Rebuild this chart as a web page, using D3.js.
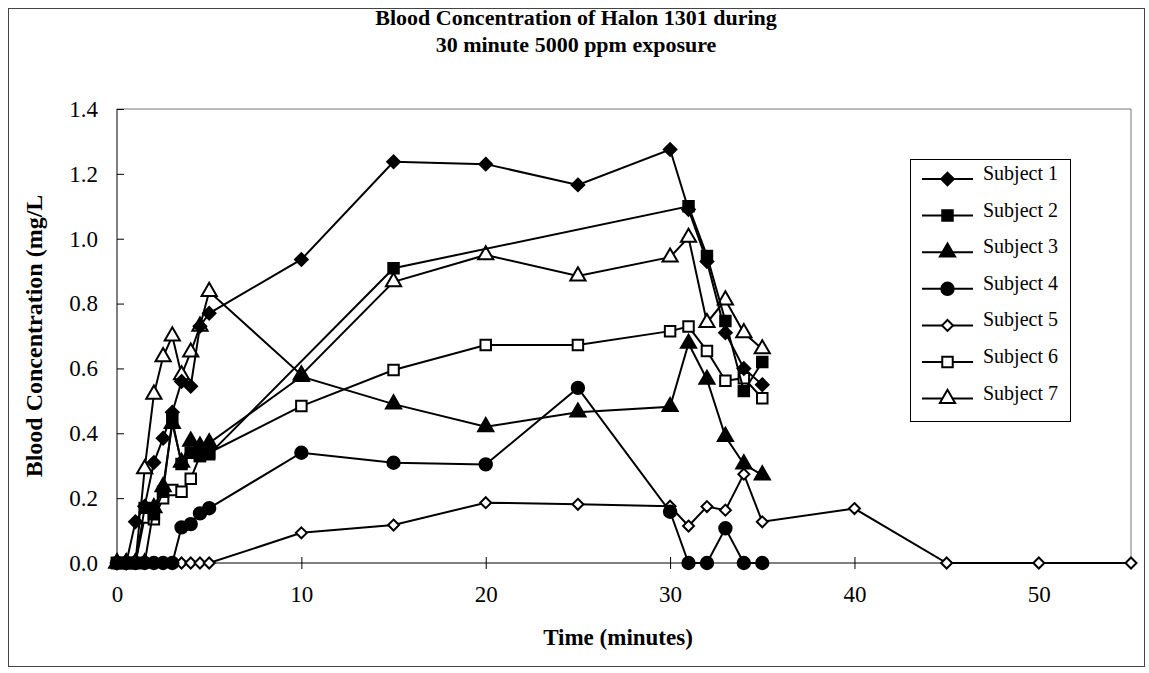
<!DOCTYPE html>
<meta charset="utf-8">
<head>
<style>
body { margin: 0; background: #fff; }
svg { font-family: "Liberation Serif", "Times New Roman", serif; }
</style>
</head>
<script src="https://d3js.org/d3.v7.min.js"></script>
<div id="chart"></div>
<script>

// sampling times (minutes)
var times = [0, 0.5, 1, 1.5, 2, 2.5, 3, 3.5, 4, 4.5, 5, 10, 15, 20, 25, 30, 31, 32, 33, 34, 35, 40, 45, 50, 55];

// blood concentration (mg/L), null = not sampled / not visible
var subject1 = [0, 0, 0.127, 0.175, 0.31, 0.385, 0.465, 0.56, 0.545, 0.73, 0.77, 0.936, 1.237, 1.23, 1.166, 1.275, 1.09, 0.93, 0.71, 0.60, 0.55, null, null, null, null];
var subject2 = [0, 0, 0, 0.17, 0.15, 0.22, 0.44, 0.305, 0.34, 0.33, 0.335, null, 0.909, null, null, null, 1.10, 0.947, 0.746, 0.53, 0.62, null, null, null, null];
var subject3 = [0, 0, 0, 0, 0.17, 0.235, 0.43, 0.31, 0.375, 0.36, 0.37, 0.575, 0.49, 0.42, 0.465, 0.482, 0.677, 0.566, 0.39, 0.305, 0.271, null, null, null, null];
var subject4 = [0, 0, 0, 0, 0, 0, 0, 0.11, 0.12, 0.153, 0.169, 0.34, 0.309, 0.304, 0.54, 0.158, 0, 0, 0.107, 0, 0, null, null, null, null];
var subject5 = [null, null, null, null, null, null, null, 0, 0, 0, 0, 0.093, 0.117, 0.186, 0.181, 0.175, 0.114, 0.174, 0.163, 0.274, 0.127, 0.168, 0, 0, 0];
var subject6 = [0, 0, 0, 0.14, 0.135, 0.2, 0.225, 0.22, 0.26, 0.33, 0.34, 0.484, 0.595, 0.672, 0.672, 0.715, 0.729, 0.654, 0.562, 0.57, 0.508, null, null, null, null];
var subject7 = [0, 0, 0, 0.29, 0.52, 0.636, 0.70, 0.58, 0.65, 0.73, 0.837, 0.58, 0.867, 0.95, 0.885, 0.943, 1.004, 0.741, 0.811, 0.71, 0.66, null, null, null, null];

var seriesNames = ["Subject 1", "Subject 2", "Subject 3", "Subject 4", "Subject 5", "Subject 6", "Subject 7"];
var xTicks = [0, 10, 20, 30, 40, 50];
var yTicks = [0, 0.2, 0.4, 0.6, 0.8, 1.0, 1.2, 1.4];

var W = 1149, H = 673;
var plot = {left: 117, right: 1131, top: 109, bottom: 563};

var svg = d3.select("#chart").append("svg")
  .attr("width", W).attr("height", H);

// outer frame
svg.append("rect")
  .attr("x", 8.5).attr("y", 8.5)
  .attr("width", 1136).attr("height", 658)
  .attr("fill", "none").attr("stroke", "#444").attr("stroke-width", 1);

var x = d3.scaleLinear().domain([0, 55]).range([plot.left, plot.right]);
var y = d3.scaleLinear().domain([0, 1.4]).range([plot.bottom, plot.top]);

// plot area border (top and right)
svg.append("path")
  .attr("d", "M" + plot.left + "," + plot.top + "H" + plot.right + "V" + plot.bottom)
  .attr("fill", "none").attr("stroke", "#777").attr("stroke-width", 1);

// title
svg.append("text").attr("x", 576).attr("y", 25)
  .attr("text-anchor", "middle").style("font-size", "22px").style("font-weight", "bold")
  .text("Blood Concentration of Halon 1301 during");
svg.append("text").attr("x", 576).attr("y", 52)
  .attr("text-anchor", "middle").style("font-size", "22px").style("font-weight", "bold")
  .text("30 minute 5000 ppm exposure");

// Y axis
var yAxis = svg.append("g")
  .attr("transform", "translate(" + plot.left + ",0)")
  .call(d3.axisLeft(y).tickValues(yTicks).tickFormat(d3.format(".1f")).tickSize(7).tickPadding(12));
yAxis.selectAll(".tick line").attr("x2", 7);
yAxis.select(".domain").attr("d", "M0," + plot.bottom + "V" + plot.top);
yAxis.selectAll("text").style("font-size", "23px").style("font-family", "Liberation Serif");
yAxis.selectAll("line,path").attr("stroke", "#000");

// X axis
var xAxis = svg.append("g")
  .attr("transform", "translate(0," + plot.bottom + ")")
  .call(d3.axisBottom(x).tickValues(xTicks).tickSize(6).tickPadding(17));
xAxis.selectAll(".tick line").attr("y1", -6);
xAxis.select(".domain").attr("d", "M" + plot.left + ",0H" + plot.right);
xAxis.selectAll("text").style("font-size", "23px").style("font-family", "Liberation Serif");

// axis titles
svg.append("text")
  .attr("transform", "translate(42," + ((plot.top + plot.bottom) / 2) + ") rotate(-90)")
  .attr("text-anchor", "middle").style("font-size", "24px").style("font-weight", "bold")
  .text("Blood Concentration (mg/L");
svg.append("text").attr("x", 618).attr("y", 645)
  .attr("text-anchor", "middle").style("font-size", "23px").style("font-weight", "bold")
  .text("Time (minutes)");

// square diamond (rotated square), like the spreadsheet marker
var symbolRhomb = {
  draw: function(context, size) {
    var r = Math.sqrt(size / 2);
    context.moveTo(0, -r);
    context.lineTo(r, 0);
    context.lineTo(0, r);
    context.lineTo(-r, 0);
    context.closePath();
  }
};

// marker styles
var markers = [
  {type: symbolRhomb, size: 80, fill: "#000"},
  {type: d3.symbolSquare, size: 110, fill: "#000"},
  {type: d3.symbolTriangle, size: 100, fill: "#000"},
  {type: d3.symbolCircle, size: 120, fill: "#000"},
  {type: symbolRhomb, size: 60, fill: "#fff"},
  {type: d3.symbolSquare, size: 110, fill: "#fff"},
  {type: d3.symbolTriangle, size: 100, fill: "#fff"}
];

var allSeries = [subject1, subject2, subject3, subject4, subject5, subject6, subject7];

var line = d3.line().x(function(d) { return x(d.t); }).y(function(d) { return y(d.v); });

// draw last subject first so the filled markers end up on top of the zero cluster
d3.range(allSeries.length - 1, -1, -1).forEach(function(i) {
  var vals = allSeries[i];
  var pts = [];
  vals.forEach(function(v, j) { if (v !== null) pts.push({t: times[j], v: v}); });

  svg.append("path")
    .datum(pts)
    .attr("d", line)
    .attr("fill", "none").attr("stroke", "#000").attr("stroke-width", 2);

  svg.append("g").selectAll("path")
    .data(pts)
    .enter().append("path")
      .attr("transform", function(d) { return "translate(" + x(d.t) + "," + y(d.v) + ")"; })
      .attr("d", d3.symbol().type(markers[i].type).size(markers[i].size))
      .attr("fill", markers[i].fill)
      .attr("stroke", "#000").attr("stroke-width", 2);
});

// legend
var legend = svg.append("g");
legend.append("rect")
  .attr("x", 910.5).attr("y", 159.5).attr("width", 160).attr("height", 262)
  .attr("fill", "#fff").attr("stroke", "#000").attr("stroke-width", 1);

seriesNames.forEach(function(name, i) {
  var ly = 179 + i * 36.6;
  legend.append("line")
    .attr("x1", 922).attr("x2", 973).attr("y1", ly).attr("y2", ly)
    .attr("stroke", "#000").attr("stroke-width", 2);
  legend.append("path")
    .attr("transform", "translate(947.5," + ly + ")")
    .attr("d", d3.symbol().type(markers[i].type).size(markers[i].size))
    .attr("fill", markers[i].fill).attr("stroke", "#000").attr("stroke-width", 2);
  legend.append("text")
    .attr("x", 983).attr("y", ly + 1)
    .style("font-size", "20px")
    .text(name);
});

</script>
